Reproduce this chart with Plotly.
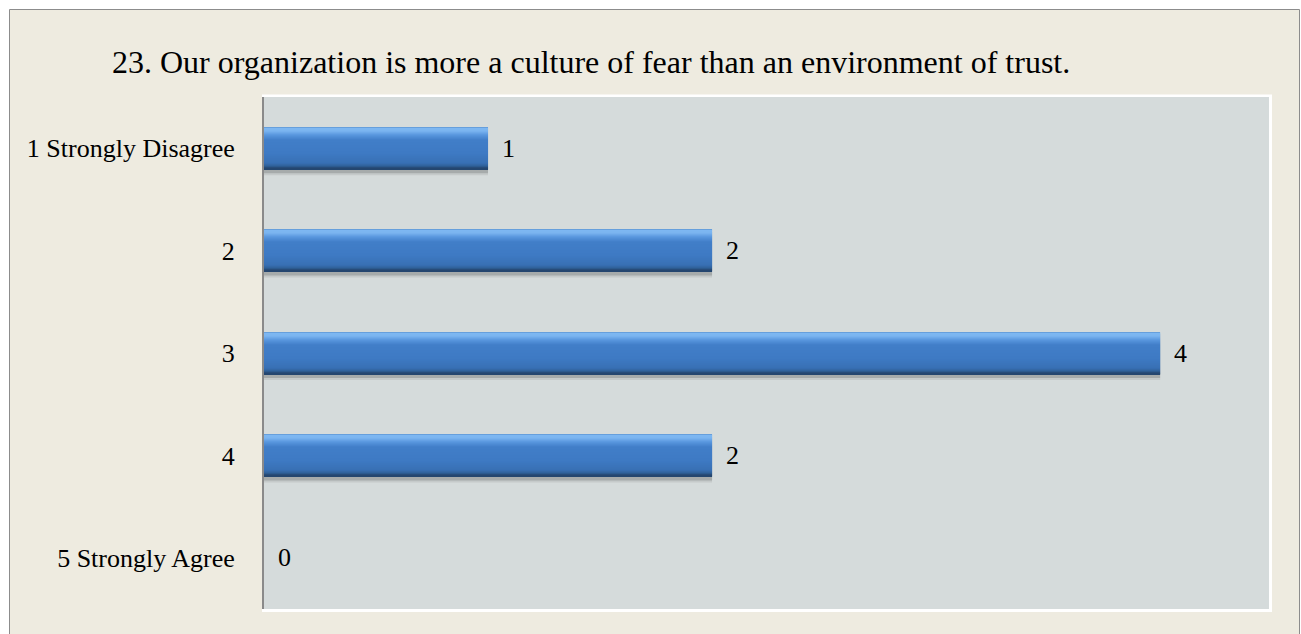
import plotly.graph_objects as go

# ---- data ----
categories = ["1 Strongly Disagree", "2", "3", "4", "5 Strongly Agree"]
counts = [1, 2, 4, 2, 0]
title_text = "23. Our organization is more a culture of fear than an environment of trust."

FONT = "Liberation Serif"
W, H = 1301, 634
L, R, T, B = 264, 32, 97, 25
PW, PH = W - L - R, H - T - B
U = PH / len(categories)        # px per category unit
BAR_PX = 42
X_MAX = 4.486

def px_x(px):
    return (px - L) / PW

def px_y(py):
    return (H - B - py) / PH

# vertical colour stops of the bevelled bar (px from bar top, rgb)
stops = [
    (0, (79, 134, 198)),
    (1, (126, 184, 242)),
    (4, (122, 180, 240)),
    (8, (88, 150, 222)),
    (13, (65, 126, 200)),
    (26, (62, 122, 196)),
    (36, (56, 112, 180)),
    (39, (47, 96, 153)),
    (41, (36, 70, 111)),
]

def colour_at(p):
    for (p0, c0), (p1, c1) in zip(stops, stops[1:]):
        if p0 <= p <= p1:
            t = (p - p0) / (p1 - p0) if p1 > p0 else 0
            c = [round(a + (b - a) * t) for a, b in zip(c0, c1)]
            return "rgb({},{},{})".format(*c)
    return "rgb({},{},{})".format(*stops[-1][1])

layers = [(2, 46, "rgba(60,60,60,0.22)"), (2, 48, "rgba(60,60,60,0.10)")]
for p in range(BAR_PX):
    layers.append((p, p + 1.15, colour_at(p + 0.5)))

fig = go.Figure()
for top, bot, col in layers:
    fig.add_trace(go.Bar(
        x=counts, y=categories, orientation="h",
        offset=(top - BAR_PX / 2) / U, width=(bot - top) / U,
        marker=dict(color=col, line=dict(width=0)),
        hoverinfo="skip", showlegend=False,
    ))

for i, v in enumerate(counts):
    fig.add_annotation(x=v, y=i, text=str(v), showarrow=False,
                       xanchor="left", yanchor="middle", xshift=12,
                       font=dict(family=FONT, size=26, color="black"))

shapes = [
    # outer chart area
    dict(type="rect", xref="paper", yref="paper", layer="below",
         x0=px_x(9.5), x1=px_x(1299.5), y0=px_y(660), y1=px_y(9.5),
         fillcolor="#EEEBE0", line=dict(color="#8C8C8C", width=1)),
    # white border of plot area
    dict(type="rect", xref="paper", yref="paper", layer="below",
         x0=px_x(262), x1=px_x(1272), y0=px_y(612), y1=px_y(94.5),
         fillcolor="white", line=dict(width=0)),
    # plot area fill
    dict(type="rect", xref="paper", yref="paper", layer="below",
         x0=px_x(264), x1=px_x(1269), y0=px_y(609), y1=px_y(97),
         fillcolor="#D5DBDB", line=dict(width=0)),
]

fig.update_layout(
    width=W, height=H,
    margin=dict(l=L, r=R, t=T, b=B, pad=0),
    paper_bgcolor="white",
    plot_bgcolor="rgba(0,0,0,0)",
    barmode="overlay",
    shapes=shapes,
    font=dict(family=FONT, color="black"),
    title=dict(text=title_text, x=112 / W, xanchor="left", xref="container",
               y=1 - 62 / H, yanchor="middle", yref="container",
               font=dict(family=FONT, size=32, color="black")),
    xaxis=dict(range=[0, X_MAX], showgrid=False, zeroline=False,
               showticklabels=False, showline=False, fixedrange=True),
    yaxis=dict(type="category", categoryorder="array", categoryarray=categories,
               range=[len(categories) - 0.5, -0.5], showgrid=False, zeroline=False,
               showline=True, linecolor="#8A8A8A", linewidth=2,
               ticks="", ticklabelstandoff=22,
               tickfont=dict(family=FONT, size=26, color="black")),
)

fig.write_html("out.html")
